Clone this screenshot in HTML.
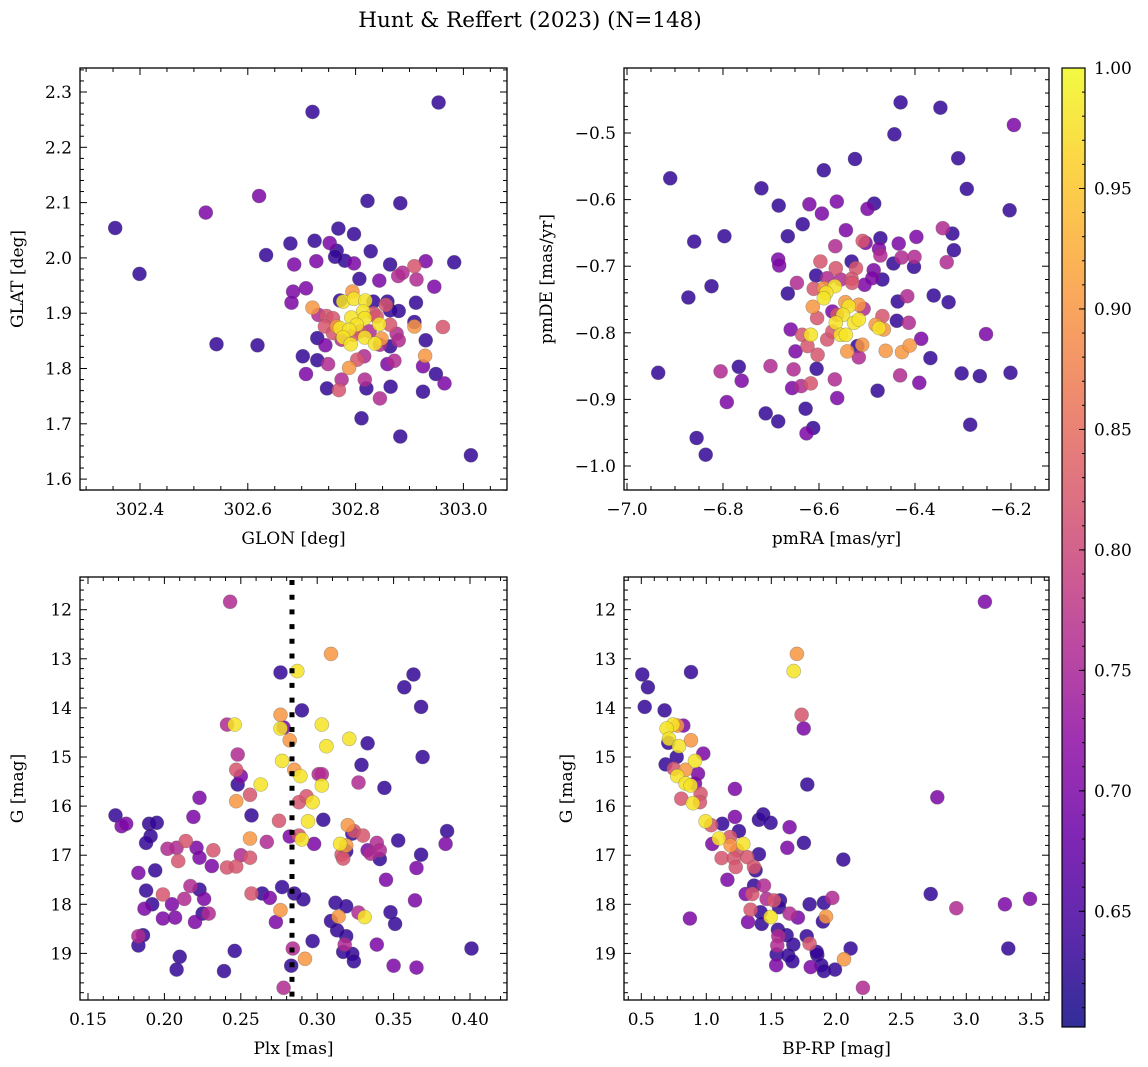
<!DOCTYPE html>
<html><head><meta charset="utf-8">
<style>
html,body{margin:0;padding:0;background:#fff;}
svg{display:block;font-family:"DejaVu Serif","Liberation Serif",serif;}
</style></head>
<body>
<svg id="fig" width="1148" height="1067" viewBox="0 0 1148 1067" xmlns="http://www.w3.org/2000/svg">
<rect x="0" y="0" width="1148" height="1067" fill="#fff"/>
<text x="530" y="27" font-size="21.5" text-anchor="middle">Hunt &amp; Reffert (2023) (N=148)</text>
</svg>
<script>
// Probability levels (colour values)
const B=0.63,P=0.70,M=0.76,K=0.82,O=0.90,Y=0.98;
const probMin=0.602, probMax=1.0;
const cbTicks=[0.65,0.70,0.75,0.80,0.85,0.90,0.95,1.00];

// Panel 1: [GLON, GLAT, prob]
const posData=[
[302.354,2.054,B],[302.399,1.971,B],[302.522,2.082,P],[302.621,2.112,P],[302.542,1.844,B],[302.618,1.842,B],
[302.720,2.264,B],[302.954,2.281,B],[302.634,2.005,B],[302.679,2.026,B],[302.724,2.031,B],[302.768,2.053,B],
[302.797,2.043,B],[302.752,2.027,P],[302.765,2.013,B],[302.762,2.002,B],[302.780,1.995,B],[302.797,1.990,P],
[302.686,1.988,P],[302.727,1.994,P],[302.822,2.103,B],[302.883,2.099,B],[302.828,2.012,B],[302.864,1.988,B],
[302.909,1.985,K],[302.930,1.994,P],[302.983,1.992,B],[302.879,1.967,M],[302.887,1.973,M],[302.913,1.961,M],
[302.807,1.962,B],[302.844,1.959,P],[302.946,1.948,P],[302.684,1.939,P],[302.708,1.945,P],[302.681,1.919,P],
[302.720,1.910,O],[302.771,1.923,B],[302.859,1.921,B],[302.912,1.919,B],[302.864,1.905,B],[302.880,1.904,B],
[302.909,1.884,B],[302.909,1.876,O],[302.962,1.875,K],[302.731,1.897,M],[302.746,1.895,K],[302.758,1.891,K],
[302.743,1.876,K],[302.765,1.876,O],[302.729,1.855,B],[302.744,1.842,P],[302.876,1.863,M],[302.880,1.851,M],
[302.930,1.851,B],[302.929,1.823,O],[302.925,1.804,P],[302.702,1.822,B],[302.729,1.815,B],[302.749,1.808,M],
[302.803,1.816,K],[302.816,1.822,M],[302.788,1.801,O],[302.859,1.808,P],[302.872,1.814,M],[302.708,1.790,P],
[302.774,1.780,M],[302.817,1.780,M],[302.747,1.764,B],[302.769,1.761,K],[302.820,1.764,B],[302.865,1.767,B],
[302.845,1.746,M],[302.925,1.758,B],[302.949,1.790,B],[302.965,1.773,P],[302.811,1.710,B],[302.883,1.677,B],
[303.014,1.643,B],[302.794,1.939,O],[302.777,1.921,Y],[302.797,1.926,Y],[302.818,1.923,Y],[302.814,1.903,Y],
[302.792,1.892,Y],[302.817,1.891,Y],[302.802,1.879,Y],[302.844,1.880,Y],[302.771,1.873,Y],[302.788,1.870,Y],
[302.777,1.856,Y],[302.817,1.856,Y],[302.791,1.844,Y],[302.836,1.845,Y],[302.848,1.854,O],[302.833,1.900,K],
[302.856,1.915,K],[302.864,1.879,K],[302.839,1.894,K],[302.808,1.867,K],[302.826,1.867,M],[302.796,1.861,K],
[302.845,1.843,M],[302.864,1.840,B],[302.774,1.852,M],[302.833,1.921,B],[302.758,1.864,K]
];

// Panel 2: [pmRA, pmDE, prob]
const pmData=[
[-6.430,-0.454,B],[-6.347,-0.462,B],[-6.194,-0.488,P],[-6.443,-0.502,B],[-6.525,-0.539,B],[-6.310,-0.538,B],
[-6.590,-0.556,B],[-6.910,-0.568,B],[-6.720,-0.583,B],[-6.292,-0.584,B],[-6.203,-0.616,B],[-6.684,-0.609,B],
[-6.620,-0.607,P],[-6.594,-0.621,P],[-6.563,-0.603,P],[-6.485,-0.606,B],[-6.499,-0.614,P],[-6.634,-0.637,B],
[-6.544,-0.646,P],[-6.665,-0.655,B],[-6.860,-0.663,B],[-6.797,-0.655,B],[-6.509,-0.662,K],[-6.503,-0.665,P],
[-6.472,-0.658,B],[-6.434,-0.666,P],[-6.397,-0.656,P],[-6.342,-0.643,M],[-6.322,-0.651,B],[-6.319,-0.676,B],
[-6.334,-0.694,M],[-6.566,-0.670,M],[-6.475,-0.674,P],[-6.472,-0.684,M],[-6.428,-0.687,M],[-6.401,-0.686,M],
[-6.445,-0.696,B],[-6.402,-0.701,B],[-6.685,-0.690,P],[-6.683,-0.699,P],[-6.597,-0.693,K],[-6.532,-0.693,B],
[-6.565,-0.703,K],[-6.523,-0.703,K],[-6.606,-0.714,B],[-6.583,-0.718,M],[-6.555,-0.720,M],[-6.532,-0.719,K],
[-6.531,-0.725,K],[-6.486,-0.706,P],[-6.489,-0.718,P],[-6.468,-0.720,B],[-6.505,-0.728,P],[-6.824,-0.730,B],
[-6.872,-0.747,B],[-6.646,-0.725,M],[-6.665,-0.741,B],[-6.611,-0.734,K],[-6.590,-0.733,O],[-6.567,-0.730,Y],
[-6.585,-0.740,Y],[-6.590,-0.748,Y],[-6.613,-0.761,O],[-6.545,-0.754,O],[-6.538,-0.760,Y],[-6.517,-0.758,O],
[-6.507,-0.764,M],[-6.572,-0.768,P],[-6.604,-0.778,K],[-6.562,-0.773,K],[-6.550,-0.773,Y],[-6.565,-0.785,Y],
[-6.527,-0.785,Y],[-6.517,-0.780,Y],[-6.482,-0.788,O],[-6.468,-0.775,K],[-6.465,-0.795,O],[-6.475,-0.793,Y],
[-6.617,-0.803,Y],[-6.635,-0.803,K],[-6.624,-0.820,K],[-6.603,-0.833,K],[-6.583,-0.810,K],[-6.572,-0.798,K],
[-6.555,-0.803,Y],[-6.544,-0.803,Y],[-6.520,-0.820,B],[-6.510,-0.818,O],[-6.541,-0.828,O],[-6.517,-0.837,M],
[-6.461,-0.827,O],[-6.427,-0.829,O],[-6.411,-0.819,O],[-6.436,-0.753,B],[-6.416,-0.745,M],[-6.438,-0.782,B],
[-6.413,-0.785,M],[-6.361,-0.744,B],[-6.330,-0.754,B],[-6.387,-0.809,P],[-6.368,-0.838,B],[-6.252,-0.802,P],
[-6.659,-0.795,P],[-6.649,-0.828,P],[-6.701,-0.850,M],[-6.653,-0.855,M],[-6.605,-0.854,B],[-6.567,-0.870,M],
[-6.617,-0.876,K],[-6.656,-0.883,P],[-6.637,-0.880,M],[-6.562,-0.898,P],[-6.628,-0.914,B],[-6.711,-0.921,B],
[-6.685,-0.933,B],[-6.612,-0.943,B],[-6.626,-0.951,P],[-6.478,-0.887,B],[-6.431,-0.864,M],[-6.391,-0.875,P],
[-6.303,-0.861,B],[-6.265,-0.865,B],[-6.201,-0.860,B],[-6.285,-0.938,B],[-6.935,-0.860,B],[-6.805,-0.858,M],
[-6.767,-0.851,B],[-6.761,-0.872,P],[-6.792,-0.904,P],[-6.855,-0.958,B],[-6.836,-0.983,B]
];

// Panel 3: [Plx, G, prob]
const plxData=[
[0.243,11.84,M],[0.309,12.90,O],[0.276,13.28,B],[0.287,13.25,Y],[0.357,13.58,B],[0.363,13.32,B],[0.368,13.98,B],
[0.290,14.05,B],[0.276,14.14,O],[0.241,14.34,M],[0.246,14.34,Y],[0.276,14.42,Y],[0.278,14.40,P],[0.282,14.66,O],
[0.303,14.34,Y],[0.321,14.63,Y],[0.306,14.78,Y],[0.333,14.72,B],[0.369,15.00,B],[0.248,14.95,M],[0.277,15.08,Y],
[0.285,15.26,O],[0.289,15.39,Y],[0.247,15.26,K],[0.250,15.39,P],[0.248,15.56,B],[0.263,15.56,Y],[0.301,15.35,M],
[0.303,15.35,M],[0.303,15.58,Y],[0.329,15.16,B],[0.327,15.52,M],[0.344,15.63,B],[0.223,15.83,P],[0.256,15.77,K],
[0.247,15.90,O],[0.288,15.92,K],[0.293,15.80,K],[0.297,15.92,Y],[0.168,16.19,B],[0.219,16.22,P],[0.257,16.19,B],
[0.172,16.41,P],[0.175,16.36,P],[0.190,16.36,B],[0.195,16.34,B],[0.275,16.30,K],[0.294,16.31,Y],[0.304,16.28,B],
[0.191,16.61,B],[0.188,16.75,B],[0.214,16.71,K],[0.256,16.66,O],[0.267,16.73,M],[0.282,16.62,P],[0.288,16.60,K],
[0.290,16.68,Y],[0.298,16.77,P],[0.320,16.39,O],[0.323,16.56,B],[0.324,16.51,K],[0.330,16.60,K],[0.315,16.77,Y],
[0.319,16.80,O],[0.319,16.92,B],[0.316,16.99,K],[0.317,17.07,K],[0.333,16.90,P],[0.335,16.97,M],[0.339,16.75,M],
[0.341,16.90,M],[0.341,17.08,B],[0.353,16.70,B],[0.385,16.51,B],[0.384,16.77,P],[0.368,16.99,B],[0.202,16.87,M],
[0.208,16.85,M],[0.221,16.85,P],[0.232,16.90,K],[0.223,17.05,P],[0.209,17.12,K],[0.250,17.00,M],[0.256,17.05,K],
[0.231,17.22,P],[0.241,17.25,K],[0.247,17.23,K],[0.183,17.36,P],[0.194,17.31,B],[0.345,17.50,P],[0.365,17.26,P],
[0.188,17.72,B],[0.199,17.80,K],[0.217,17.63,M],[0.223,17.70,B],[0.226,17.89,P],[0.213,17.89,M],[0.257,17.78,K],
[0.264,17.78,B],[0.269,17.87,P],[0.277,17.65,B],[0.285,17.78,B],[0.291,17.90,B],[0.192,18.00,B],[0.205,18.00,P],
[0.187,18.09,P],[0.199,18.29,P],[0.207,18.27,P],[0.220,18.36,P],[0.225,18.19,B],[0.229,18.19,M],[0.276,18.12,O],
[0.273,18.36,P],[0.312,17.97,B],[0.319,18.04,B],[0.309,18.34,B],[0.314,18.25,O],[0.327,18.17,M],[0.331,18.26,Y],
[0.348,18.16,B],[0.351,18.40,B],[0.364,17.92,P],[0.186,18.63,B],[0.183,18.65,M],[0.183,18.84,B],[0.210,19.07,B],
[0.208,19.33,B],[0.246,18.95,B],[0.239,19.36,B],[0.284,18.90,M],[0.283,19.25,B],[0.292,19.11,O],[0.278,19.70,M],
[0.297,18.75,B],[0.313,18.53,B],[0.319,18.65,B],[0.318,18.82,M],[0.317,18.97,B],[0.323,19.01,B],[0.324,19.16,B],
[0.339,18.82,P],[0.350,19.25,P],[0.365,19.29,P],[0.401,18.90,B]
];
const plxLine=0.2835;

// Panel 4: [BP-RP, G, prob]
const cmdData=[
[3.143,11.84,P],[1.697,12.90,O],[1.672,13.25,Y],[0.508,13.32,B],[0.551,13.58,B],[0.882,13.27,B],[0.526,13.98,B],
[0.679,14.05,B],[1.733,14.14,K],[1.749,14.42,P],[0.744,14.34,Y],[0.695,14.42,Y],[0.823,14.36,P],[0.777,14.36,O],
[0.713,14.63,Y],[0.708,14.71,B],[0.790,14.78,Y],[0.882,14.66,O],[0.977,14.93,P],[0.772,15.00,B],[0.913,15.08,Y],
[0.687,15.15,B],[0.751,15.24,K],[0.841,15.26,O],[0.936,15.34,P],[0.777,15.39,Y],[0.841,15.54,Y],[0.879,15.58,Y],
[0.913,15.54,P],[0.956,15.75,K],[0.808,15.85,K],[0.951,15.92,K],[0.897,15.94,Y],[1.220,15.65,P],[1.777,15.56,B],
[2.777,15.82,P],[0.995,16.31,Y],[1.038,16.39,K],[1.123,16.36,B],[1.220,16.22,P],[1.251,16.51,B],[1.405,16.28,B],
[1.438,16.17,B],[1.495,16.34,B],[1.641,16.43,P],[1.097,16.66,Y],[1.046,16.77,P],[1.187,16.80,O],[1.182,16.63,K],
[1.285,16.77,Y],[1.238,16.90,K],[1.405,16.98,B],[1.623,16.85,P],[1.751,16.75,B],[2.054,17.09,B],[1.118,17.06,K],
[1.213,17.06,K],[1.315,17.04,K],[1.226,17.24,K],[1.367,17.24,K],[1.379,17.31,B],[1.162,17.50,P],[1.303,17.79,P],
[1.354,17.79,K],[1.367,17.62,B],[1.444,17.62,M],[1.464,17.89,M],[1.520,17.92,K],[1.567,17.92,B],[1.559,18.06,B],
[1.341,18.11,K],[1.418,18.16,B],[1.495,18.26,Y],[1.321,18.36,P],[1.426,18.40,B],[1.641,18.19,M],[1.705,18.27,P],
[1.795,18.00,B],[1.905,17.97,B],[1.969,17.87,M],[1.921,18.25,O],[1.897,18.35,B],[1.551,18.52,B],[1.618,18.63,B],
[1.554,18.65,M],[1.772,18.65,B],[1.546,18.84,M],[1.669,18.82,B],[1.541,19.02,B],[1.631,19.04,B],[1.662,19.16,B],
[1.538,19.24,P],[1.795,18.80,K],[1.854,19.03,B],[1.849,18.97,B],[1.885,19.24,B],[1.905,19.36,B],[1.990,19.33,B],
[1.803,19.28,P],[2.059,19.12,O],[2.110,18.90,B],[2.205,19.70,M],[0.874,18.29,P],[2.726,17.79,B],[2.923,18.08,M],
[3.297,18.00,P],[3.490,17.89,P],[3.323,18.90,B]
];

const NS="http://www.w3.org/2000/svg";
const svg=document.getElementById('fig');
function mk(tag,attrs,parent){const e=document.createElementNS(NS,tag);for(const k in attrs)e.setAttribute(k,attrs[k]);(parent||svg).appendChild(e);return e;}

const stops=["#0d0887","#41049d","#6a00a8","#8f0da4","#b12a90","#cc4778","#e16462","#f2844b","#fca636","#fcce25","#f0f921"];
function hx(c){return [parseInt(c.substr(1,2),16),parseInt(c.substr(3,2),16),parseInt(c.substr(5,2),16)];}
function plasma(t){t=Math.max(0,Math.min(1,t));const f=t*10,i=Math.min(9,Math.floor(f)),u=f-i;const a=hx(stops[i]),b=hx(stops[i+1]);
 return "rgb("+a.map((v,j)=>Math.round(v+(b[j]-v)*u)).join(",")+")";}
function colorOf(p){return plasma((p-probMin)/(probMax-probMin));}

function fmt(v,d){const s=Math.abs(v).toFixed(d);return (v<-1e-9?"\u2212":"")+s;}

const TF=17;
function panel(cfg){
 const g=mk('g',{});
 
 
 const [x0,y0,x1,y1]=cfg.box;
 const X=v=>cfg.xo+(v-cfg.xr)*cfg.xs;
 const Yf=v=>cfg.yo+(v-cfg.yr)*cfg.ys;
 const cid='clip'+cfg.name;
 const cp=mk('clipPath',{id:cid},g);mk('rect',{x:x0,y:y0,width:x1-x0,height:y1-y0},cp);
 const pts=mk('g',{'clip-path':'url(#'+cid+')'},g);
 
 
 const sorted=cfg.data.slice().sort((a,b)=>a[2]-b[2]);
 sorted.forEach(d=>{
  const c=mk('circle',{cx:X(d[0]).toFixed(1),cy:Yf(d[1]).toFixed(1),r:7,fill:colorOf(d[2]),'fill-opacity':0.85,stroke:'rgba(90,90,90,0.45)','stroke-width':0.6},pts);
  
  
 });
 if(cfg.vline!==undefined){
  const l=mk('line',{x1:X(cfg.vline),x2:X(cfg.vline),y1:y0+3,y2:y1,stroke:'#000','stroke-width':5,'stroke-dasharray':'5,9.7'},g);
  
  
 }
 mk('rect',{x:x0,y:y0,width:x1-x0,height:y1-y0,fill:'none',stroke:'#000','stroke-width':1.3},g);
 const tg=mk('g',{stroke:'#000','stroke-width':1},g);
 const eps=1e-6;
 for(let v=cfg.xmin;v<=cfg.xmax+eps;v+=cfg.xminor){const px=X(v);if(px<x0-0.5||px>x1+0.5)continue;
  const maj=Math.abs(Math.round(v/cfg.xmajor)*cfg.xmajor-v)<cfg.xminor/4;const L=maj?7:4;
  mk('line',{x1:px,x2:px,y1:y1,y2:y1-L},tg);mk('line',{x1:px,x2:px,y1:y0,y2:y0+L},tg);}
 for(let v=cfg.ymin;v<=cfg.ymax+eps;v+=cfg.yminor){const py=Yf(v);if(py<y0-0.5||py>y1+0.5)continue;
  const maj=Math.abs(Math.round(v/cfg.ymajor)*cfg.ymajor-v)<cfg.yminor/4;const L=maj?7:4;
  mk('line',{x1:x0,x2:x0+L,y1:py,y2:py},tg);mk('line',{x1:x1,x2:x1-L,y1:py,y2:py},tg);}
 cfg.xticks.forEach(v=>{const t=mk('text',{x:X(v),y:y1+25,'font-size':TF,'text-anchor':'middle'},g);t.textContent=fmt(v,cfg.xdec);
  });
 cfg.yticks.forEach(v=>{const t=mk('text',{x:x0-8,y:Yf(v)+6,'font-size':TF,'text-anchor':'end'},g);t.textContent=fmt(v,cfg.ydec);
  });
 const xl=mk('text',{x:(x0+x1)/2,y:y1+54,'font-size':TF,'text-anchor':'middle'},g);xl.textContent=cfg.xlabel;
 
 const yx=cfg.ylx,yc=(y0+y1)/2;
 const yl=mk('text',{x:yx,y:yc,'font-size':TF,'text-anchor':'middle',transform:`rotate(-90 ${yx} ${yc})`},g);yl.textContent=cfg.ylabel;
 
}

function range(a,b,s){const r=[];for(let v=a;v<=b+1e-9;v+=s)r.push(+v.toFixed(6));return r;}

panel({name:'position-panel',box:[80,68,507,490],data:posData,xr:302.4,xo:140,xs:539,yr:2.3,yo:92,ys:-553,
 xmin:302.25,xmax:303.1,xminor:0.05,xmajor:0.2,ymin:1.56,ymax:2.36,yminor:0.02,ymajor:0.1,
 xticks:range(302.4,303.0,0.2),yticks:range(1.6,2.3,0.1),xdec:1,ydec:1,xlabel:'GLON [deg]',ylabel:'GLAT [deg]',ylx:23});
panel({name:'proper-motion-panel',box:[624,68,1049,490],data:pmData,xr:-7.0,xo:627,xs:480,yr:-0.5,yo:133,ys:-666,
 xmin:-7.05,xmax:-6.1,xminor:0.05,xmajor:0.2,ymin:-1.06,ymax:-0.40,yminor:0.02,ymajor:0.1,
 xticks:range(-7.0,-6.2,0.2),yticks:range(-1.0,-0.5,0.1),xdec:1,ydec:1,xlabel:'pmRA [mas/yr]',ylabel:'pmDE [mas/yr]',ylx:552});
panel({name:'parallax-panel',box:[80,577,507,1000],data:plxData,vline:plxLine,xr:0.15,xo:88,xs:1528,yr:12,yo:609.7,ys:49.1,
 xmin:0.14,xmax:0.42,xminor:0.01,xmajor:0.05,ymin:11.2,ymax:20.0,yminor:0.2,ymajor:1,
 xticks:range(0.15,0.40,0.05),yticks:range(12,19,1),xdec:2,ydec:0,xlabel:'Plx [mas]',ylabel:'G [mag]',ylx:23});
panel({name:'cmd-panel',box:[624,577,1049,1000],data:cmdData,xr:0.5,xo:641.3,xs:130,yr:12,yo:609.7,ys:49.1,
 xmin:0.3,xmax:3.8,xminor:0.1,xmajor:0.5,ymin:11.2,ymax:20.0,yminor:0.2,ymajor:1,
 xticks:range(0.5,3.5,0.5),yticks:range(12,19,1),xdec:1,ydec:0,xlabel:'BP-RP [mag]',ylabel:'G [mag]',ylx:572});

const cb=mk('g',{});


const defs=mk('defs',{},cb);
const lg=mk('linearGradient',{id:'cbgrad',x1:0,y1:1,x2:0,y2:0},defs);
for(let i=0;i<=20;i++){mk('stop',{offset:(i/20),'stop-color':plasma(i/20),'stop-opacity':0.85},lg);}
const cbX0=1062,cbX1=1085,cbY0=68,cbY1=1027;
mk('rect',{x:cbX0,y:cbY0,width:cbX1-cbX0,height:cbY1-cbY0,fill:'url(#cbgrad)',stroke:'#000','stroke-width':1.2},cb);
const CY=v=>cbY0+(probMax-v)/(probMax-probMin)*(cbY1-cbY0);
for(let v=0.61;v<=1.0001;v+=0.01){const y=CY(v);mk('line',{x1:cbX1,x2:cbX1-3,y1:y,y2:y,stroke:'#000','stroke-width':1},cb);}
cbTicks.forEach(v=>{const y=CY(v);mk('line',{x1:cbX1,x2:cbX1-6,y1:y,y2:y,stroke:'#000','stroke-width':1},cb);
 const t=mk('text',{x:1094,y:y+6,'font-size':TF},cb);t.textContent=v.toFixed(2);
 });
</script>
</body></html>
